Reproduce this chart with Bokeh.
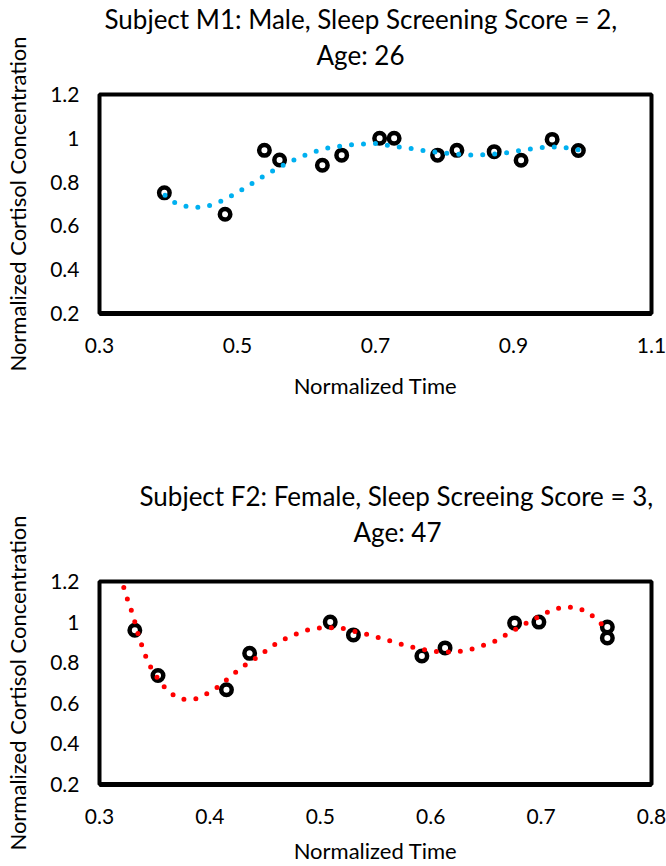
from bokeh.plotting import figure
from bokeh.models import Range1d, FixedTicker, Title
from bokeh.layouts import column
from bokeh.embed import file_html
from bokeh.resources import INLINE

FONT = "Lato"

# ---- Subject M1 ----
m1_title_line1 = "Subject M1: Male, Sleep Screening Score = 2,"
m1_title_line2 = "Age: 26"
m1_time = [0.394, 0.482, 0.539, 0.561, 0.623, 0.651, 0.706, 0.727, 0.790, 0.818, 0.872, 0.911, 0.956, 0.994]
m1_cortisol = [0.751, 0.653, 0.945, 0.901, 0.877, 0.923, 1.0, 1.0, 0.923, 0.945, 0.939, 0.900, 0.995, 0.944]
m1_trend_time = [0.395, 0.41, 0.43, 0.45, 0.47, 0.49, 0.51, 0.53, 0.55, 0.57, 0.59, 0.61, 0.63,
                 0.65, 0.67, 0.70, 0.72, 0.75, 0.78, 0.81, 0.84, 0.86, 0.88, 0.90, 0.92, 0.95, 0.97, 0.994]
m1_trend_cortisol = [0.74, 0.705, 0.685, 0.685, 0.703, 0.735, 0.772, 0.812, 0.849, 0.883, 0.913, 0.937, 0.955,
                     0.965, 0.973, 0.976, 0.967, 0.954, 0.939, 0.929, 0.923, 0.926, 0.930, 0.939, 0.949, 0.961, 0.960, 0.948]
m1_x_ticks = [0.3, 0.5, 0.7, 0.9, 1.1]
m1_x_tick_labels = ["0.3", "0.5", "0.7", "0.9", "1.1"]

# ---- Subject F2 ----
f2_title_line1 = "Subject F2: Female, Sleep Screeing Score = 3,"
f2_title_line2 = "Age: 47"
f2_time = [0.332, 0.353, 0.415, 0.436, 0.509, 0.530, 0.592, 0.613, 0.676, 0.698, 0.760, 0.760]
f2_cortisol = [0.960, 0.737, 0.667, 0.846, 1.0, 0.937, 0.833, 0.873, 0.995, 1.0, 0.976, 0.922]
f2_trend_time = [0.322, 0.326, 0.330, 0.336, 0.340, 0.344, 0.350, 0.357, 0.365, 0.375, 0.387, 0.397,
                 0.407, 0.416, 0.425, 0.435, 0.445, 0.454, 0.464, 0.475, 0.486, 0.497, 0.509, 0.521,
                 0.532, 0.544, 0.555, 0.566, 0.577, 0.589, 0.601, 0.612, 0.624, 0.635, 0.646, 0.658,
                 0.668, 0.678, 0.688, 0.699, 0.709, 0.720, 0.732, 0.742, 0.751, 0.760]
f2_trend_cortisol = [1.17, 1.10, 1.04, 0.92, 0.86, 0.80, 0.745, 0.69, 0.647, 0.619, 0.622, 0.647,
                     0.68, 0.72, 0.76, 0.80, 0.834, 0.873, 0.907, 0.934, 0.958, 0.970, 0.973, 0.968,
                     0.953, 0.937, 0.920, 0.903, 0.885, 0.869, 0.857, 0.852, 0.854, 0.864, 0.882, 0.906,
                     0.937, 0.968, 0.999, 1.029, 1.058, 1.075, 1.072, 1.050, 1.012, 0.960]
f2_x_ticks = [0.3, 0.4, 0.5, 0.6, 0.7, 0.8]
f2_x_tick_labels = ["0.3", "0.4", "0.5", "0.6", "0.7", "0.8"]

# ---- shared ----
y_ticks = [0.2, 0.4, 0.6, 0.8, 1.0, 1.2]
y_tick_labels = ["0.2", "0.4", "0.6", "0.8", "1", "1.2"]
x_axis_title = "Normalized Time"
y_axis_title = "Normalized Cortisol Concentration"


def make_chart(line1, line2, xs, ys, txs, tys, xticks, xlabels, trend_color,
               height, top, bottom, off1, off2, spacer, xlabel_gap):
    p = figure(width=666, height=height, title=None,
               x_range=Range1d(xticks[0], xticks[-1]), y_range=Range1d(y_ticks[0], y_ticks[-1]),
               output_backend="svg", toolbar_location=None,
               min_border_left=99, min_border_right=15, min_border_top=top, min_border_bottom=bottom,
               background_fill_color="white", border_fill_color="white")
    p.xgrid.visible = False
    p.ygrid.visible = False
    p.outline_line_color = "black"
    p.outline_line_width = 4

    for ax in (p.xaxis[0], p.yaxis[0]):
        ax.major_tick_out = 0
        ax.major_tick_in = 0
        ax.minor_tick_out = 0
        ax.minor_tick_in = 0
        ax.major_label_text_font = FONT
        ax.major_label_text_font_size = "21px"
        ax.major_label_text_color = "black"
        ax.axis_label_text_font = FONT
        ax.axis_label_text_font_size = "22px"
        ax.axis_label_text_font_style = "normal"
        ax.axis_label_text_color = "black"

    xa = p.xaxis[0]
    xa.ticker = FixedTicker(ticks=xticks)
    xa.major_label_overrides = dict(zip(xticks, xlabels))
    xa.axis_label = x_axis_title
    xa.axis_line_color = "black"
    xa.axis_line_width = 5
    xa.major_label_standoff = 24
    xa.axis_label_standoff = xlabel_gap

    ya = p.yaxis[0]
    ya.ticker = FixedTicker(ticks=y_ticks)
    ya.major_label_overrides = dict(zip(y_ticks, y_tick_labels))
    ya.axis_label = y_axis_title
    ya.axis_line_color = None
    ya.major_label_standoff = 20
    ya.axis_label_standoff = 16

    # spacer between frame and the two title lines (first added = nearest to the frame)
    p.add_layout(Title(text=" ", text_font_size="2px", standoff=spacer), "above")
    p.add_layout(Title(text=line2, align="left", offset=off2, standoff=2, vertical_align="middle",
                       text_font=FONT, text_font_size="26px", text_font_style="normal",
                       text_color="black"), "above")
    p.add_layout(Title(text=line1, align="left", offset=off1, standoff=2, vertical_align="middle",
                       text_font=FONT, text_font_size="26px", text_font_style="normal",
                       text_color="black"), "above")

    p.scatter(xs, ys, marker="circle", size=10.5, fill_color=None,
              line_color="black", line_width=4.5)
    p.line(txs, tys, line_color=trend_color, line_width=5, line_dash="0 12", line_cap="round")
    return p


p1 = make_chart(m1_title_line1, m1_title_line2, m1_time, m1_cortisol,
                m1_trend_time, m1_trend_cortisol, m1_x_ticks, m1_x_tick_labels,
                "#00B0F0", 440, 93, 127, 5, 217, 18, 16)
p2 = make_chart(f2_title_line1, f2_title_line2, f2_time, f2_cortisol,
                f2_trend_time, f2_trend_cortisol, f2_x_ticks, f2_x_tick_labels,
                "#FF0000", 426, 141, 79, 40, 254, 28, 10)

layout = column(p1, p2, spacing=0)
open("out.html", "w").write(file_html(layout, INLINE))
